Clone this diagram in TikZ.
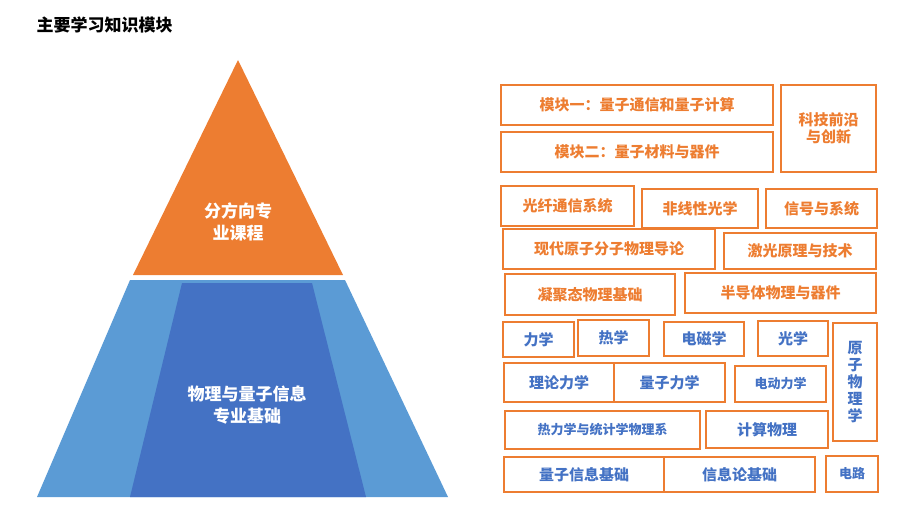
\documentclass[tikz,border=0pt]{standalone}
\usepackage{fontspec}
\setmainfont{Noto Sans CJK SC}
\begin{document}
\begin{tikzpicture}[x=1pt,y=-1pt,
  ob/.style={draw=boxor,line width=2.4pt,text=boxor,font=\fontsize{15}{17}\selectfont\bfseries},
  bb/.style={draw=boxor,line width=2.4pt,text=txtb,font=\fontsize{15}{17}\selectfont\bfseries}]
\definecolor{boxor}{HTML}{ED7D31}
\definecolor{txtb}{HTML}{4472C4}
\definecolor{lb}{HTML}{5B9BD5}
\definecolor{db}{HTML}{4472C4}
\useasboundingbox (0,0) rectangle (913,508);
\node[anchor=west,font=\fontsize{17}{20}\selectfont\bfseries] (title) at (33,25) {主要学习知识模块};
\fill[boxor] (238,60) -- (343,275) -- (133,275) -- cycle;
\fill[lb] (130,280) -- (345,280) -- (448,497) -- (37,497) -- cycle;
\fill[db] (182,283) -- (312,283) -- (366,497) -- (130,497) -- cycle;
\node[text=white,font=\fontsize{17}{22}\selectfont\bfseries,align=center] (top) at (238,222) {分方向专\\业课程};
\node[text=white,font=\fontsize{17}{22}\selectfont\bfseries,align=center] (base) at (247,405) {物理与量子信息\\专业基础};
\newcommand{\bx}[6]{\draw[#1] (#2,#3) rectangle (#4,#5); \node[#1,draw=none,align=center] at ({(#2+#4)/2},{(#3+#5)/2}) {#6};}
\bx{ob}{501}{85}{773}{125}{模块一：量子通信和量子计算}
\bx{ob}{501}{132}{773}{172}{模块二：量子材料与器件}
\bx{ob}{781}{85}{876}{172}{科技前沿\\与创新}
\bx{ob}{501}{186}{634}{226}{光纤通信系统}
\bx{ob}{642}{189}{758}{228}{非线性光学}
\bx{ob}{766}{189}{877}{228}{信号与系统}
\bx{ob}{503}{229}{715}{269}{现代原子分子物理导论}
\bx{ob}{724}{233}{876}{269}{激光原理与技术}
\bx{ob}{505}{274}{675}{315}{凝聚态物理基础}
\bx{ob}{685}{273}{876}{313}{半导体物理与器件}
\bx{bb}{503}{322}{574}{357}{力学}
\bx{bb}{578}{320}{649}{356}{热学}
\bx{bb}{664}{322}{744}{356}{电磁学}
\bx{bb}{758}{321}{828}{356}{光学}
\bx{bb}{833}{323}{877}{441}{原\\子\\物\\理\\学}
\bx{bb}{504}{363}{614}{402}{理论力学}
\bx{bb}{614}{363}{725}{402}{量子力学}
\draw[bb] (735,366) rectangle (826,402); \node[text=txtb,font=\fontsize{13}{15}\selectfont\bfseries] at (780.5,384) {电动力学};
\draw[bb] (505,411) rectangle (700,449); \node[text=txtb,font=\fontsize{13}{15}\selectfont\bfseries] at (602.5,430) {热力学与统计学物理系};
\bx{bb}{706}{411}{828}{448}{计算物理}
\bx{bb}{504}{457}{664}{492}{量子信息基础}
\bx{bb}{664}{457}{815}{492}{信息论基础}
\draw[bb] (826,456) rectangle (878,492); \node[text=txtb,font=\fontsize{13}{15}\selectfont\bfseries] at (852,474) {电路};
\end{tikzpicture}
\end{document}
